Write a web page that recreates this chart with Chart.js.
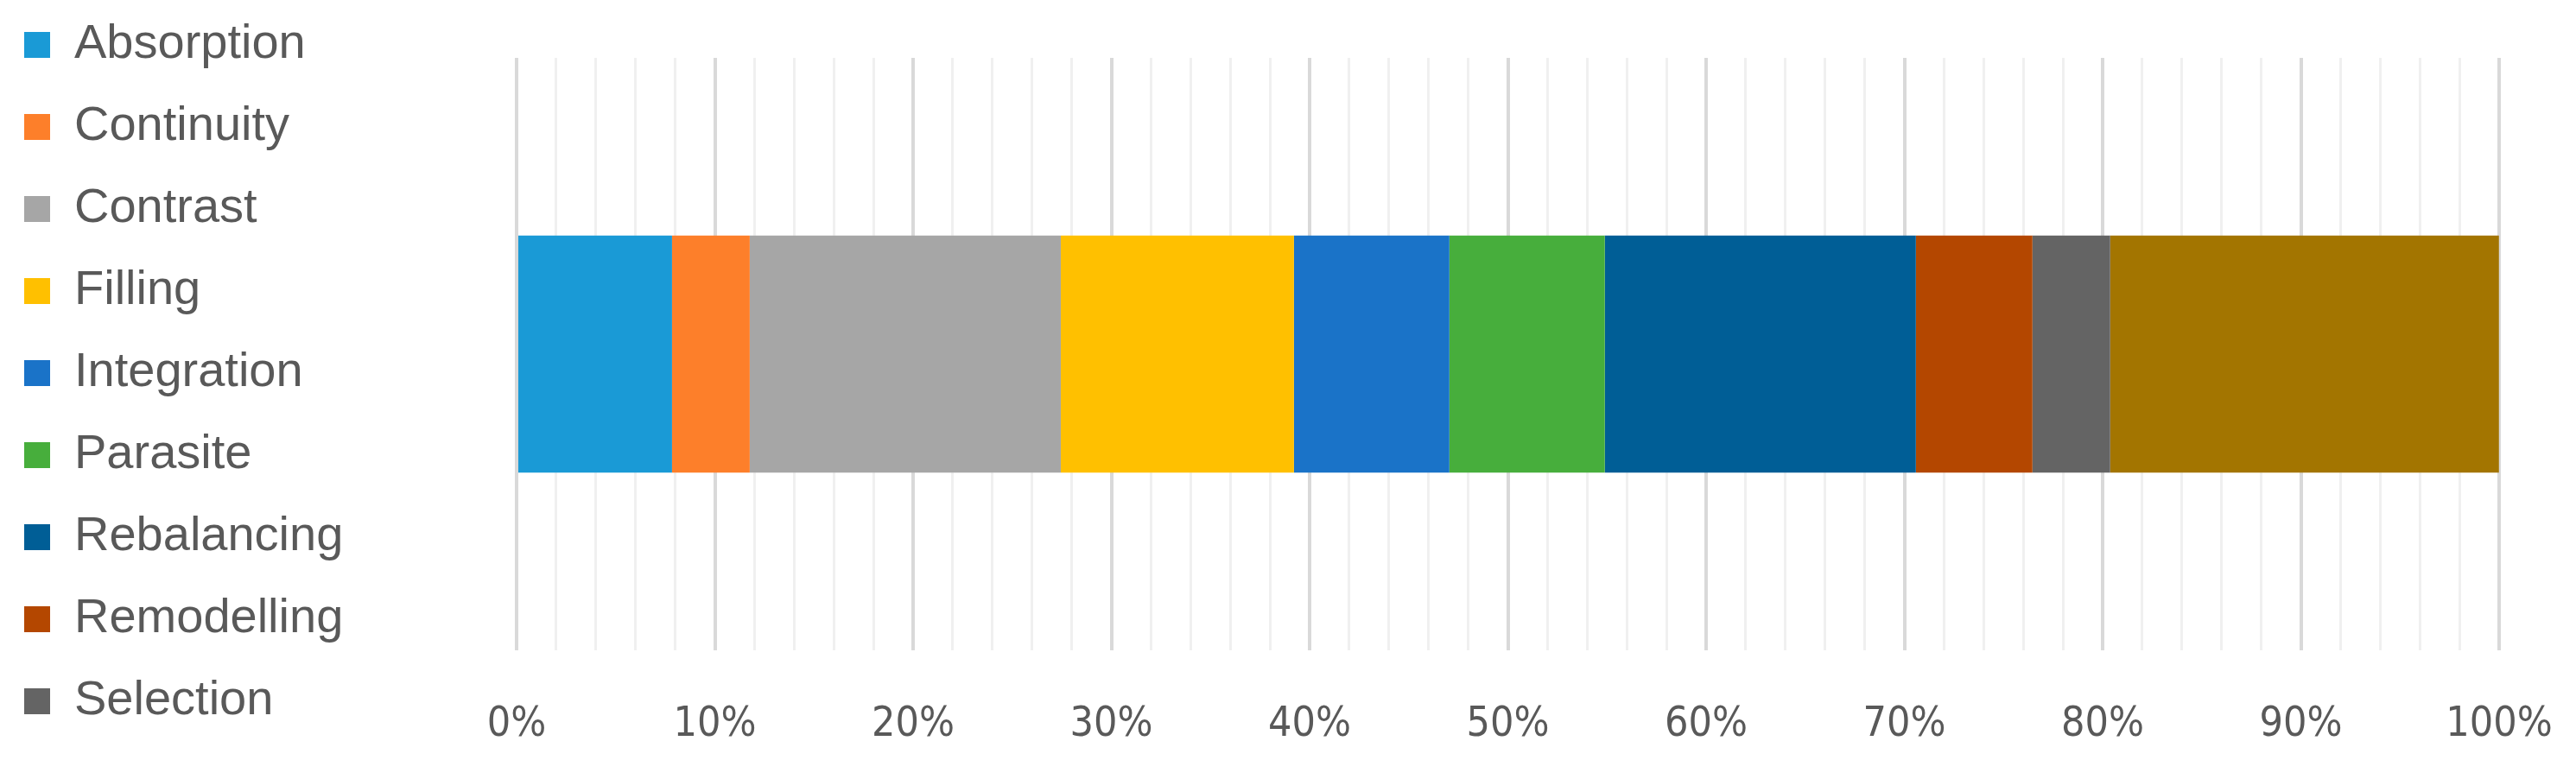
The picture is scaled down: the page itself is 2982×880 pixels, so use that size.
<!DOCTYPE html>
<html>
<head>
<meta charset="utf-8">
<script src="https://cdn.jsdelivr.net/npm/chart.js@4.4.1/dist/chart.umd.min.js"></script>
<style>
  html, body { margin: 0; padding: 0; background: #ffffff; }
  #wrap { width: 2982px; height: 880px; }
</style>
</head>
<body>
<div id="wrap"><canvas id="chart" width="2982" height="880"></canvas></div>
<script>
// Share of each category in the single 100% stacked bar (percent)
const categories = ["Absorption", "Continuity", "Contrast", "Filling", "Integration",
    "Parasite", "Rebalancing", "Remodelling", "Selection", "Other"];
const shares = [7.84, 3.92, 15.69, 11.76, 7.84, 7.84, 15.69, 5.88, 3.92, 19.61];
const colors = ["#1A9AD6", "#FD7F2A", "#A6A6A6", "#FFC000", "#1A73C8",
    "#47AE3C", "#005E96", "#B44700", "#646464", "#A37500"];
const tickValues = [0, 10, 20, 30, 40, 50, 60, 70, 80, 90, 100];
const legendCount = 9; // last entry of the legend is cut off in the original

const ctx = document.getElementById("chart").getContext("2d");

const datasets = categories.map(function (name, i) {
    return {
        label: name,
        data: [shares[i]],
        backgroundColor: colors[i],
        borderWidth: 0,
        categoryPercentage: 0.4,
        barPercentage: 1.0,
    };
});

const chart = new Chart(ctx, {
    type: "bar",
    data: {
        labels: [""],
        datasets: datasets,
    },
    options: {
        indexAxis: "y",
        responsive: false,
        animation: false,
        devicePixelRatio: 1,
        layout: {
            padding: { left: 28, top: 24, right: 89, bottom: 0 },
        },
        scales: {
            x: {
                stacked: true,
                min: 0,
                max: 100,
                position: "bottom",
                border: { display: false },
                grid: {
                    drawTicks: false,
                    color: function (c) {
                        return tickValues.includes(c.tick.value) ? "#D9D9D9" : "#F0F0F0";
                    },
                    lineWidth: function (c) {
                        return tickValues.includes(c.tick.value) ? 4 : 3;
                    },
                },
                ticks: {
                    stepSize: 2,
                    autoSkip: false,
                    maxRotation: 0,
                    padding: 58,
                    color: "#595959",
                    font: { family: "'DejaVu Sans Condensed', 'Liberation Sans Narrow', sans-serif", size: 48 },
                    callback: function (v) {
                        return tickValues.includes(v) ? v + "%" : "";
                    },
                },
                afterFit: function (s) {
                    s.height = 127;
                    s.paddingLeft = 0;
                    s.paddingRight = 0;
                },
            },
            x2: {
                type: "linear",
                axis: "x",
                position: "top",
                display: true,
                border: { display: false },
                grid: { display: false },
                ticks: { display: false },
                afterFit: function (s) {
                    s.height = 43;
                    s.paddingLeft = 0;
                    s.paddingRight = 0;
                },
            },
            y: {
                stacked: true,
                display: true,
                border: { display: false },
                grid: { display: false },
                ticks: { display: false },
                afterFit: function (s) {
                    s.width = Math.max(0, 598 - 28 - s.chart.legend.width);
                },
            },
        },
        plugins: {
            tooltip: { enabled: false },
            legend: {
                position: "left",
                align: "start",
                labels: {
                    boxWidth: 30,
                    boxHeight: 30,
                    padding: 0,
                    color: "#595959",
                    font: { family: "'Liberation Sans', Arial, sans-serif", size: 56, lineHeight: "95px" },
                    generateLabels: function (c) {
                        return Chart.defaults.plugins.legend.labels.generateLabels(c)
                            .filter(function (item) { return item.datasetIndex < legendCount; })
                            .map(function (item) { item.text = [item.text]; return item; });
                    },
                },
            },
        },
    },
});
</script>
</body>
</html>
